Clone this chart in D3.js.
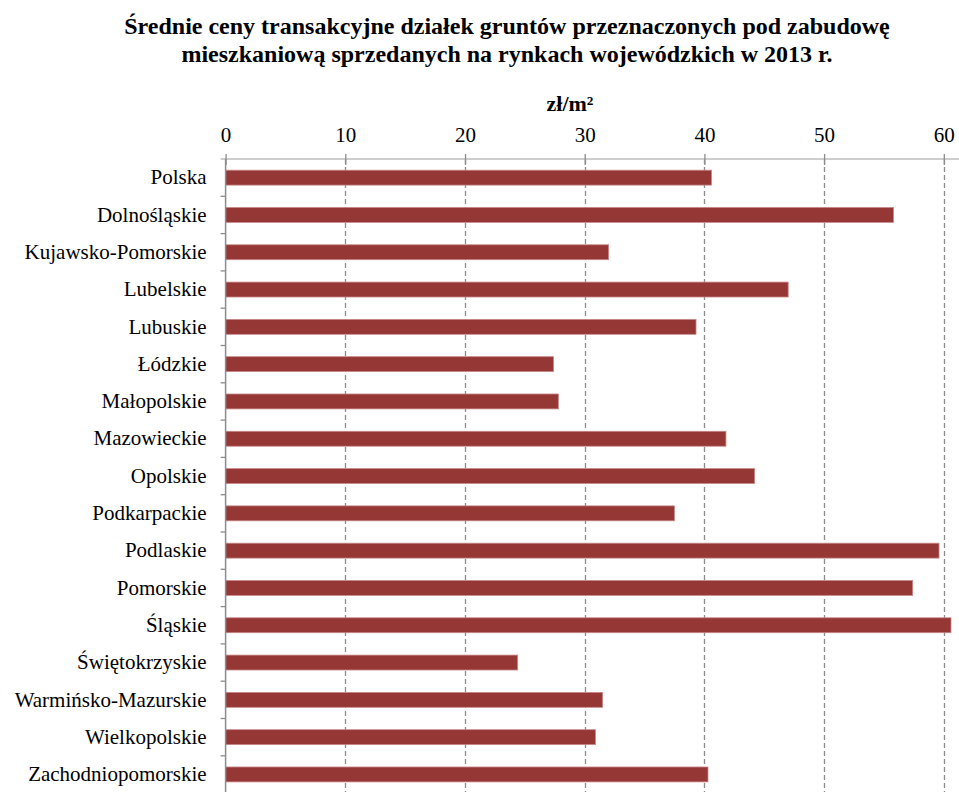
<!DOCTYPE html>
<html><head><meta charset="utf-8">
<script src="https://cdn.jsdelivr.net/npm/d3@7"></script>
<style>body{margin:0;background:#fff}svg{display:block}</style>
</head><body>
<script>
const categories = ["Polska","Dolnośląskie","Kujawsko-Pomorskie","Lubelskie","Lubuskie","Łódzkie","Małopolskie","Mazowieckie","Opolskie","Podkarpackie","Podlaskie","Pomorskie","Śląskie","Świętokrzyskie","Warmińsko-Mazurskie","Wielkopolskie","Zachodniopomorskie"];
const values = [40.6,55.8,32.0,47.0,39.3,27.4,27.8,41.8,44.2,37.5,59.6,57.4,60.6,24.4,31.5,30.9,40.3];
const tickValues = [0,10,20,30,40,50,60];
const titleLines = ["Średnie ceny transakcyjne działek gruntów przeznaczonych pod zabudowę","mieszkaniową sprzedanych na rynkach wojewódzkich w 2013 r."];
const unitLabel = "zł/m²";

(function(){
const W = 959, H = 792;
const font = "'Liberation Serif','Times New Roman',serif";
const svg = d3.select("body").append("svg").attr("width", W).attr("height", H);

const x0 = 225.6, pxPerUnit = 11.97;
const x = d3.scaleLinear().domain([0, 61.3]).range([x0, x0 + 61.3 * pxPerUnit]);
const plotTop = 159;
const y = d3.scaleBand().domain(categories).range([plotTop, plotTop + 17 * 37.3]).paddingInner(0.6).paddingOuter(0.3);

// title
svg.append("g").selectAll("text").data(titleLines).join("text")
  .attr("x", 507).attr("y", (d,i) => 34 + i * 27.5)
  .attr("text-anchor", "middle").attr("font-family", font).attr("font-weight", "bold")
  .attr("font-size", 24).attr("fill", "#000").text(d => d);

// unit
svg.append("text").attr("x", 570).attr("y", 111).attr("text-anchor", "middle")
  .attr("font-family", font).attr("font-weight", "bold").attr("font-size", 22).text(unitLabel);

// gridlines
svg.append("g").selectAll("line").data(tickValues.filter(v => v > 0)).join("line")
  .attr("x1", d => Math.round(x(d)) + 0.5).attr("x2", d => Math.round(x(d)) + 0.5)
  .attr("y1", plotTop).attr("y2", H)
  .attr("stroke", "#8c8c8c").attr("stroke-width", 1.3).attr("stroke-dasharray", "5,3");

// bars
svg.append("g").selectAll("rect").data(categories).join("rect")
  .attr("x", x(0)).attr("y", d => y(d))
  .attr("width", (d,i) => x(values[i]) - x(0)).attr("height", y.bandwidth())
  .attr("fill", "#953735").attr("stroke", "#c9898a").attr("stroke-width", 0.8);

// top axis
const xAxis = d3.axisTop(x).tickValues(tickValues).tickSize(5).tickPadding(12).tickFormat(d3.format("d"));
const gx = svg.append("g").attr("transform", `translate(0,${plotTop})`).call(xAxis);
gx.select(".domain").attr("stroke", "#bdbdbd").attr("stroke-width", 1.3).attr("d", `M${x0-5},0H${W}`);
gx.selectAll(".tick line").attr("stroke", "#8c8c8c").attr("stroke-width", 1.3).attr("y1", 6).attr("y2", -5);
gx.selectAll(".tick text").attr("font-family", font).attr("font-size", 21).attr("fill", "#000");

// left axis
const yAxis = d3.axisLeft(y).tickSize(0).tickPadding(19);
const gy = svg.append("g").attr("transform", `translate(${x0},0)`).call(yAxis);
gy.select(".domain").attr("stroke", "#8c8c8c").attr("stroke-width", 1.5).attr("d", `M0,${plotTop}V${H}`);
gy.selectAll(".tick text").attr("font-family", font).attr("font-size", 21).attr("fill", "#000");
// band boundary ticks
const bounds = d3.range(1, categories.length + 1).map(i => plotTop + i * y.step());
svg.append("g").selectAll("line").data(bounds).join("line")
  .attr("x1", x0 - 5).attr("x2", x0).attr("y1", d => d).attr("y2", d => d)
  .attr("stroke", "#8c8c8c").attr("stroke-width", 1.3);
})();
</script>
</body></html>
